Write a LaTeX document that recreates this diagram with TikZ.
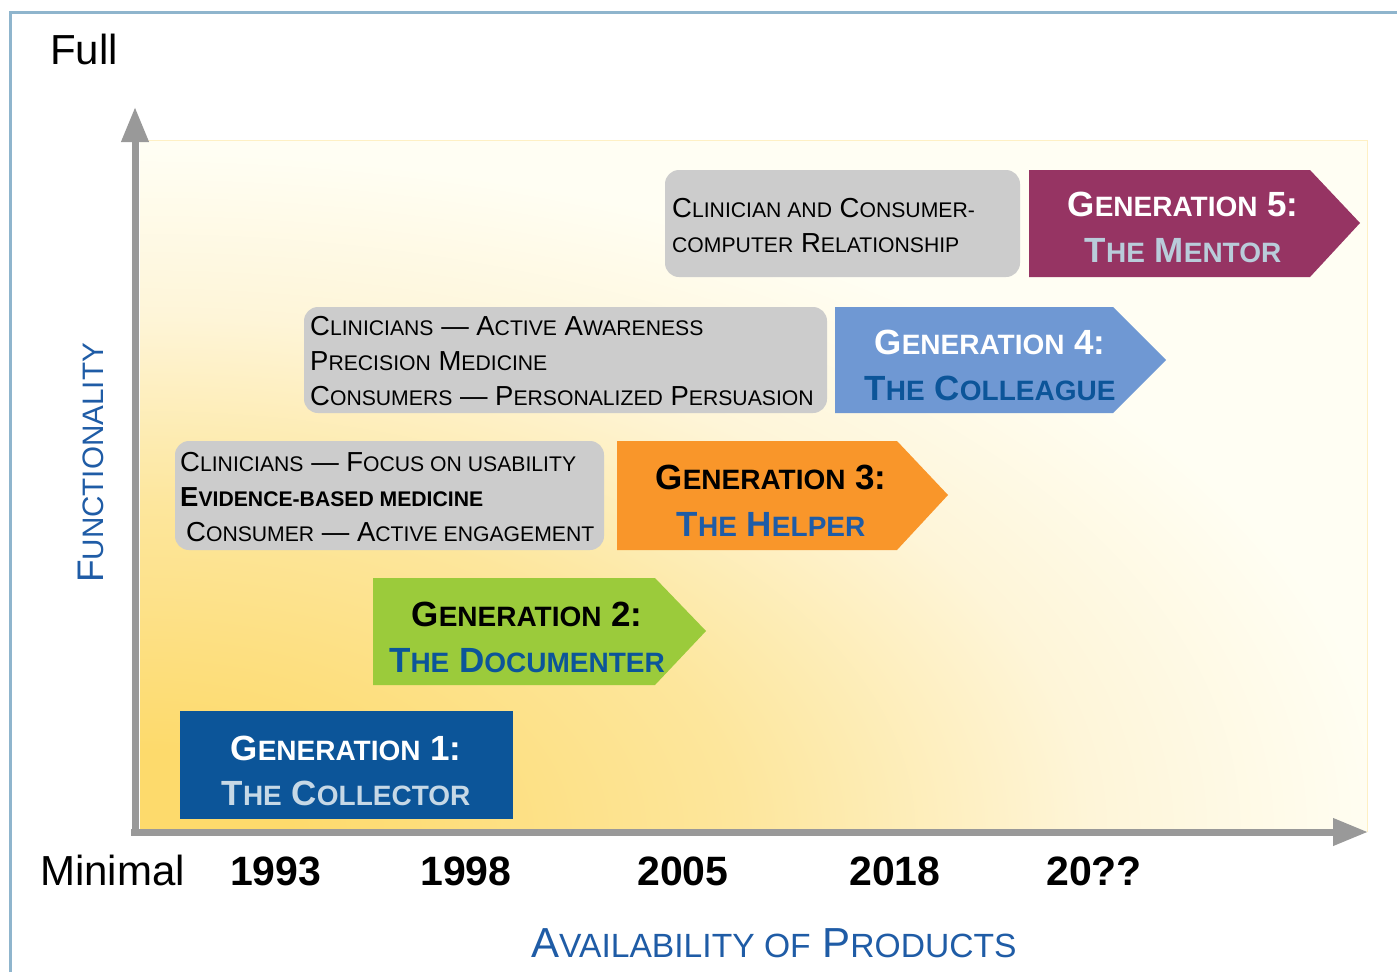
\documentclass[tikz,border=0pt]{standalone}
\usepackage{fontspec}
\setmainfont{Liberation Sans}
\usepackage{graphicx}
\usetikzlibrary{arrows.meta}
\definecolor{framec}{HTML}{8FB5CD}
\definecolor{ydeep}{HTML}{FDDA6C}
\definecolor{ymid}{HTML}{FDE69C}
\definecolor{ylight}{HTML}{FEF5D8}
\definecolor{ypale}{HTML}{FFFEF3}
\definecolor{axisgray}{HTML}{999999}
\definecolor{boxgray}{HTML}{CCCCCC}
\definecolor{gone}{HTML}{0C5599}
\definecolor{gtwo}{HTML}{9BCB3B}
\definecolor{gthree}{HTML}{F9962A}
\definecolor{gfour}{HTML}{6F98D3}
\definecolor{gfive}{HTML}{963463}
\definecolor{lblue}{HTML}{1F5CA6}
\definecolor{paleA}{HTML}{C6D8E6}
\definecolor{paleB}{HTML}{B9CCDA}
\pgfdeclareradialshading{bgsh}{\pgfpoint{0bp}{0bp}}{color(0bp)=(ydeep); color(3bp)=(ydeep); color(12bp)=(ymid); color(19bp)=(ylight); color(25bp)=(ypale); color(50bp)=(ypale)}
\newcommand\smA[1]{\scalebox{0.8}{#1}}
\newcommand\smB[1]{\scalebox{0.77}{#1}}
\tikzset{
  gtitle/.style={anchor=base, inner sep=0pt, font=\fontsize{35}{35}\selectfont\bfseries},
  gtext/.style={anchor=base west, inner sep=0pt, font=\fontsize{27.5}{27.5}\selectfont},
  graybox/.style={fill=boxgray, rounded corners=14pt},
  axisline/.style={draw=axisgray, line width=7pt, -{Triangle[length=35pt,width=26pt]}},
  yearlab/.style={anchor=base west, inner sep=0pt, font=\fontsize{41}{41}\selectfont\bfseries},
}
\begin{document}
\begin{tikzpicture}[x=1pt,y=-1pt]
\useasboundingbox (0,0) rectangle (1397,972);
\fill[white] (0,0) rectangle (1397,972);
% frame
\draw[framec, line width=3pt] (10,972) -- (10,12) -- (1397,12);
% background gradient
\fill[ypale] (140,140) rectangle (1367,832);
\begin{scope}
\clip (140,140) rectangle (1367,832);
\shade[shading=bgsh] (140,832) ellipse [x radius=1250, y radius=680];
\end{scope}
\draw[ydeep!40, line width=1pt] (140,140) -- (1367,140) -- (1367,832);
% axes
\coordinate (O) at (135,836);
\coordinate (ytip) at (135,107);
\coordinate (O2) at (131,832);
\coordinate (xtip) at (1368,832);
\draw[axisline] (O) -- (ytip);
\draw[axisline] (O2) -- (xtip);
% gray boxes
\fill[graybox] (665,170) rectangle (1020,277);
\fill[graybox] (304,307) rectangle (827,413);
\fill[graybox] (175,441) rectangle (604,550);
% generation shapes
\fill[gone] (180,711) rectangle (513,819);
\fill[gtwo] (373,578) -- (655,578) -- (706,631) -- (655,685) -- (373,685) -- cycle;
\fill[gthree] (617,441) -- (897,441) -- (948,495) -- (897,550) -- (617,550) -- cycle;
\fill[gfour] (835,307) -- (1113,307) -- (1166,360) -- (1113,413) -- (835,413) -- cycle;
\fill[gfive] (1029,170) -- (1310,170) -- (1360,223) -- (1310,277) -- (1029,277) -- cycle;
% generation titles
\node[gtitle, white] (g1a) at (346,760) {G\smA{ENERATION} 1:};
\node[gtitle, paleA] (g1b) at (346,805) {T\smA{HE} C\smA{OLLECTOR}};
\node[gtitle, black] (g2a) at (527,626) {G\smA{ENERATION} 2:};
\node[gtitle, gone] (g2b) at (527,672) {T\smA{HE} D\smA{OCUMENTER}};
\node[gtitle, black] (g3a) at (771,489) {G\smA{ENERATION} 3:};
\node[gtitle, lblue] (g3b) at (771,536) {T\smA{HE} H\smA{ELPER}};
\node[gtitle, white] (g4a) at (990,354) {G\smA{ENERATION} 4:};
\node[gtitle, gone] (g4b) at (990,400) {T\smA{HE} C\smA{OLLEAGUE}};
\node[gtitle, white] (g5a) at (1183,216) {G\smA{ENERATION} 5:};
\node[gtitle, paleB] (g5b) at (1183,262) {T\smA{HE} M\smA{ENTOR}};
% gray box texts
\node[gtext] (t5a) at (672,217) {C\smB{LINICIAN AND} C\smB{ONSUMER-}};
\node[gtext] (t5b) at (672,252) {\smB{COMPUTER} R\smB{ELATIONSHIP}};
\node[gtext] (t4a) at (310,335) {C\smB{LINICIANS} — A\smB{CTIVE} A\smB{WARENESS}};
\node[gtext] (t4b) at (310,370) {P\smB{RECISION} M\smB{EDICINE}};
\node[gtext] (t4c) at (310,405) {C\smB{ONSUMERS} — P\smB{ERSONALIZED} P\smB{ERSUASION}};
\node[gtext] (t3a) at (180,471) {C\smB{LINICIANS} — F\smB{OCUS ON USABILITY}};
\node[gtext, font=\fontsize{27.5}{27.5}\selectfont\bfseries] (t3b) at (180,506) {E\smB{VIDENCE-BASED MEDICINE}};
\node[gtext] (t3c) at (186,541) {C\smB{ONSUMER} — A\smB{CTIVE ENGAGEMENT}};
% axis labels
\node[anchor=base west, inner sep=0pt, font=\fontsize{42}{42}\selectfont] (full) at (50,64) {Full};
\node[anchor=base west, inner sep=0pt, font=\fontsize{42}{42}\selectfont] (minimal) at (40,885) {Minimal};
\node[yearlab] (y1) at (230,885) {1993};
\node[yearlab] (y2) at (420,885) {1998};
\node[yearlab] (y3) at (637,885) {2005};
\node[yearlab] (y4) at (849,885) {2018};
\node[yearlab] (y5) at (1046,885) {20??};
\node[anchor=base west, inner sep=0pt, rotate=90, lblue, font=\fontsize{37}{37}\selectfont] (func) at (103,583) {F\smA{UNCTIONALITY}};
\node[anchor=base west, inner sep=0pt, lblue, font=\fontsize{42}{42}\selectfont] (avail) at (531,957) {A\smA{VAILABILITY OF} P\smA{RODUCTS}};
\end{tikzpicture}
\end{document}
